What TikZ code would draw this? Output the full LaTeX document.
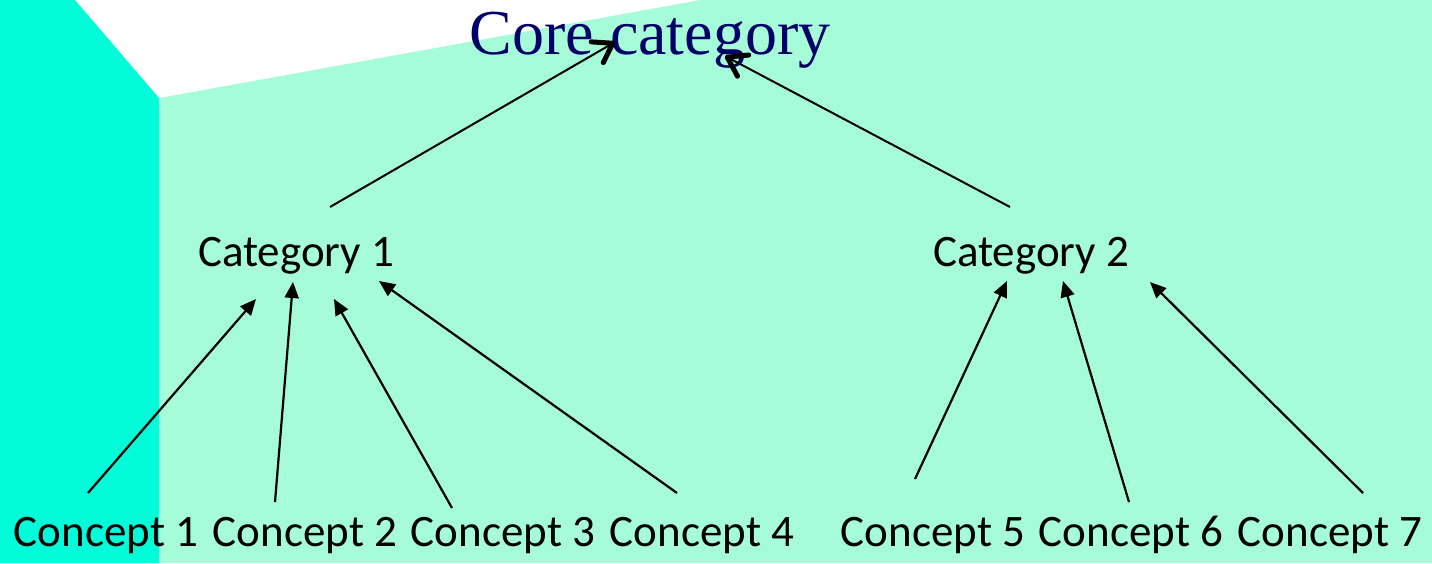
\documentclass[tikz,border=0pt]{standalone}
\usepackage{fontspec}
\setmainfont{Carlito}
\newfontfamily\titlefont{Liberation Serif}
\usetikzlibrary{arrows.meta}
\definecolor{mint}{RGB}{166,252,216}
\definecolor{aqua}{RGB}{0,252,216}
\definecolor{navy}{RGB}{0,0,102}
\tikzset{
  lbl/.style={inner sep=0pt, anchor=base, font=\fontsize{45}{50}\selectfont},
  ttl/.style={inner sep=0pt, anchor=base, text=navy, font=\titlefont\fontsize{64}{70}\selectfont},
  upar/.style={line width=2.2pt, -{Triangle[length=16pt,width=14pt]}},
  topar/.style={line width=2pt, -{Straight Barb[length=18pt,width=24pt,line width=5pt,round]}}
}
\begin{document}
\begin{tikzpicture}[x=1pt,y=-1pt]
\useasboundingbox (0,0) rectangle (1432,563);
\fill[mint] (0,0) rectangle (1432,563);
\fill[white] (75,0) -- (159,98) -- (700,0) -- cycle;
\fill[aqua] (0,0) -- (75,0) -- (159,98) -- (159,563) -- (0,563) -- cycle;

\node[ttl] (core) at (650,54) {Core category};
\node[lbl] (cat1) at (296,266) {Category 1};
\node[lbl] (cat2) at (1031,266) {Category 2};
\node[lbl] (c1) at (106,546) {Concept 1};
\node[lbl] (c2) at (305,546) {Concept 2};
\node[lbl] (c3) at (503,546) {Concept 3};
\node[lbl] (c4) at (702,546) {Concept 4};
\node[lbl] (c5) at (933,546) {Concept 5};
\node[lbl] (c6) at (1131,546) {Concept 6};
\node[lbl] (c7) at (1330,546) {Concept 7};

\draw[topar] ([shift={(34,-59)}]cat1.base) -- ([shift={(-35,-12)}]core.base);
\draw[topar] ([shift={(-21,-59)}]cat2.base) -- ([shift={(75,2)}]core.base);

\draw[upar] ([shift={(-18,-53)}]c1.base) -- ([shift={(-40,33)}]cat1.base);
\draw[upar] ([shift={(-30,-44)}]c2.base) -- ([shift={(-3,16)}]cat1.base);
\draw[upar] ([shift={(-51,-38)}]c3.base) -- ([shift={(38,33)}]cat1.base);
\draw[upar] ([shift={(-25,-53)}]c4.base) -- ([shift={(83,15)}]cat1.base);
\draw[upar] ([shift={(-18,-67)}]c5.base) -- ([shift={(-24,15)}]cat2.base);
\draw[upar] ([shift={(-2,-44)}]c6.base) -- ([shift={(32,15)}]cat2.base);
\draw[upar] ([shift={(33,-53)}]c7.base) -- ([shift={(119,16)}]cat2.base);
\end{tikzpicture}
\end{document}
